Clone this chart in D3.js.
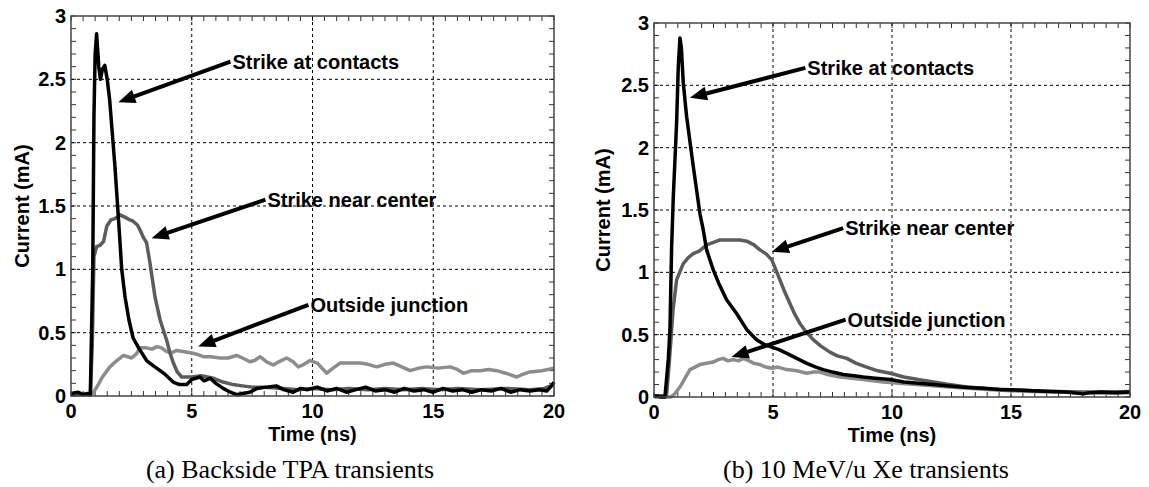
<!DOCTYPE html>
<html>
<head>
<meta charset="utf-8">
<script src="https://cdn.jsdelivr.net/npm/d3@7"></script>
<style>
  body { margin: 0; background: #fff; }
  text { font-family: "Liberation Sans", Arial, sans-serif; font-weight: bold; }
  .caption { font-family: "Liberation Serif", "Times New Roman", serif; font-weight: normal; }
</style>
</head>
<body>
<script>
// tick values
var xTicks = [0, 5, 10, 15, 20];
var yTicks = [0, 0.5, 1, 1.5, 2, 2.5, 3];
var yTickLabels = ["0", "0.5", "1", "1.5", "2", "2.5", "3"];

// (a) Backside TPA transients  [time ns, current mA]
var aContacts = [[0,0.02],[0.3,0.03],[0.5,0.01],[0.7,0.02],[0.8,0.01],[0.9,1.0],[0.95,2.2],[1.0,2.7],[1.06,2.86],[1.15,2.6],[1.22,2.5],[1.3,2.58],[1.4,2.61],[1.5,2.5],[1.6,2.34],[1.82,1.81],[2.0,1.3],[2.1,1.0],[2.24,0.78],[2.4,0.6],[2.57,0.46],[2.8,0.38],[3.13,0.28],[3.4,0.24],[3.69,0.2],[3.9,0.17],[4.23,0.11],[4.5,0.09],[4.79,0.09],[5.0,0.13],[5.34,0.15],[5.5,0.12],[5.76,0.14],[6.0,0.1],[6.3,0.06],[6.6,0.03],[6.86,0.01],[7.1,0.02],[7.4,0.03],[7.7,0.06],[8.1,0.07],[8.5,0.08],[8.8,0.05],[9.2,0.03],[9.5,0.06],[9.8,0.05],[10.2,0.07],[10.6,0.04],[11,0.06],[11.4,0.03],[11.8,0.05],[12.2,0.07],[12.6,0.04],[13,0.05],[13.4,0.03],[13.8,0.06],[14.2,0.04],[14.6,0.05],[15,0.03],[15.4,0.06],[15.8,0.04],[16.2,0.05],[16.6,0.03],[17,0.05],[17.4,0.04],[17.8,0.06],[18.2,0.03],[18.6,0.05],[19,0.04],[19.4,0.05],[19.7,0.04],[19.9,0.08],[20,0.11]];
var aCenter = [[0,0.01],[0.4,0.02],[0.8,0.01],[0.88,0.4],[0.95,1.1],[1.06,1.18],[1.2,1.19],[1.35,1.22],[1.48,1.34],[1.65,1.39],[1.82,1.4],[2.03,1.43],[2.25,1.41],[2.44,1.39],[2.57,1.38],[2.75,1.35],[2.86,1.31],[3.0,1.25],[3.13,1.21],[3.27,1.05],[3.48,0.78],[3.69,0.6],[3.96,0.44],[4.1,0.34],[4.24,0.26],[4.4,0.19],[4.58,0.15],[5.0,0.15],[5.4,0.16],[5.9,0.14],[6.3,0.11],[6.7,0.09],[7.1,0.08],[7.5,0.07],[8.0,0.07],[8.8,0.06],[9.4,0.05],[10,0.06],[10.8,0.05],[11.5,0.06],[12.3,0.05],[13,0.06],[13.8,0.05],[14.5,0.06],[15.3,0.05],[16,0.06],[17,0.05],[18,0.06],[19,0.05],[19.6,0.06],[20,0.09]];
var aOutside = [[0,0.01],[0.8,0.01],[0.9,0.02],[1.1,0.08],[1.3,0.15],[1.61,0.23],[1.9,0.28],[2.17,0.32],[2.35,0.31],[2.51,0.3],[2.7,0.33],[2.86,0.38],[3.13,0.38],[3.35,0.37],[3.55,0.39],[3.75,0.38],[3.96,0.35],[4.15,0.34],[4.38,0.36],[4.7,0.35],[5.0,0.34],[5.2,0.33],[5.48,0.31],[5.8,0.31],[6.17,0.3],[6.5,0.3],[6.86,0.32],[7.1,0.3],[7.41,0.27],[7.6,0.28],[7.83,0.31],[8.1,0.27],[8.38,0.245],[8.6,0.27],[8.93,0.3],[9.2,0.27],[9.41,0.23],[9.65,0.25],[9.9,0.28],[10.2,0.26],[10.59,0.18],[10.85,0.22],[11.14,0.26],[11.5,0.26],[11.97,0.26],[12.3,0.25],[12.66,0.23],[13.0,0.25],[13.35,0.26],[13.7,0.23],[14.04,0.2],[14.4,0.22],[14.73,0.23],[15.2,0.22],[15.7,0.23],[16.0,0.21],[16.25,0.18],[16.6,0.2],[16.94,0.2],[17.3,0.21],[17.63,0.2],[18.0,0.18],[18.46,0.15],[18.7,0.17],[19.0,0.19],[19.5,0.2],[20,0.22]];

// (b) 10 MeV/u Xe transients
var bContacts = [[0,0.01],[0.3,0.0],[0.46,0.0],[0.6,0.3],[0.67,0.54],[0.74,1.2],[0.81,1.6],[0.95,2.2],[1.02,2.65],[1.09,2.88],[1.15,2.8],[1.23,2.52],[1.37,2.25],[1.65,1.85],[1.93,1.47],[2.07,1.34],[2.21,1.18],[2.49,1.02],[2.75,0.9],[3.05,0.78],[3.47,0.67],[3.9,0.54],[4.31,0.46],[4.65,0.42],[4.95,0.4],[5.25,0.38],[5.58,0.35],[6.0,0.31],[6.42,0.27],[6.8,0.24],[7.11,0.22],[7.5,0.2],[7.95,0.18],[8.4,0.17],[8.79,0.16],[9.3,0.15],[9.92,0.14],[10.5,0.12],[11.1,0.11],[11.74,0.1],[12.3,0.09],[12.9,0.08],[13.4,0.075],[13.84,0.07],[14.5,0.06],[15.24,0.056],[15.9,0.05],[16.6,0.045],[17.3,0.04],[18.04,0.025],[18.3,0.035],[18.8,0.04],[19.4,0.035],[20,0.04]];
var bCenter = [[0,0.01],[0.5,0.01],[0.53,0.02],[0.65,0.3],[0.8,0.7],[0.95,0.94],[1.1,1.01],[1.23,1.07],[1.45,1.12],[1.65,1.15],[1.9,1.17],[2.21,1.22],[2.5,1.24],[2.77,1.26],[3.2,1.26],[3.6,1.26],[3.9,1.25],[4.2,1.22],[4.45,1.18],[4.7,1.15],[4.95,1.1],[5.1,1.03],[5.29,0.94],[5.5,0.84],[5.71,0.75],[5.9,0.67],[6.13,0.59],[6.4,0.52],[6.69,0.46],[7.0,0.41],[7.39,0.36],[7.7,0.33],[8.1,0.31],[8.5,0.27],[8.94,0.24],[9.4,0.21],[9.92,0.19],[10.5,0.16],[11.1,0.14],[11.74,0.12],[12.4,0.1],[13.14,0.08],[14.2,0.065],[15.24,0.056],[16,0.05],[17,0.045],[18,0.04],[19,0.04],[20,0.045]];
var bOutside = [[0,0.0],[0.7,0.0],[0.85,0.02],[1.09,0.08],[1.3,0.15],[1.51,0.22],[1.93,0.26],[2.2,0.27],[2.49,0.28],[2.7,0.3],[2.91,0.31],[3.1,0.29],[3.33,0.3],[3.55,0.29],[3.75,0.31],[4.0,0.29],[4.2,0.27],[4.45,0.26],[4.7,0.24],[4.95,0.23],[5.2,0.24],[5.58,0.22],[6.0,0.21],[6.42,0.19],[6.7,0.2],[6.97,0.2],[7.3,0.18],[7.82,0.16],[8.3,0.15],[8.79,0.14],[9.2,0.13],[9.63,0.12],[10.3,0.11],[11,0.1],[11.7,0.09],[12.4,0.08],[13.2,0.07],[14,0.06],[15,0.05],[16,0.045],[17,0.04],[18,0.035],[19,0.03],[20,0.035]];

// annotations: label, text start [t, v], arrow tip [t, v]
var aNotes = [
  {label: "Strike at contacts", from: [6.6, 2.64], to: [1.96, 2.32]},
  {label: "Strike near center", from: [8.05, 1.55], to: [3.34, 1.245]},
  {label: "Outside junction", from: [9.83, 0.72], to: [5.27, 0.39]}
];
var bNotes = [
  {label: "Strike at contacts", from: [6.36, 2.64], to: [1.51, 2.4]},
  {label: "Strike near center", from: [7.95, 1.355], to: [4.95, 1.165]},
  {label: "Outside junction", from: [8.05, 0.62], to: [3.26, 0.32]}
];

var captions = ["(a) Backside TPA transients", "(b) 10 MeV/u Xe transients"];

var W = 1149, H = 487;
var svg = d3.select("body").append("svg")
    .attr("width", W)
    .attr("height", H);
svg.append("rect").attr("width", W).attr("height", H).attr("fill", "#fff");

var panels = [
  {left: 71, right: 554, top: 16, bottom: 396, series: [aOutside, aCenter, aContacts], notes: aNotes, caption: captions[0], capX: 290, ylabX: 22},
  {left: 654, right: 1130, top: 23, bottom: 397, series: [bOutside, bCenter, bContacts], notes: bNotes, caption: captions[1], capX: 866, ylabX: 603}
];
var colors = ["#8c8c8c", "#5c5c5c", "#000"];

panels.forEach(function(p) {
  var x = d3.scaleLinear().domain([0, 20]).range([p.left, p.right]);
  var y = d3.scaleLinear().domain([0, 3]).range([p.bottom, p.top]);
  var g = svg.append("g");

  // minor ticks, inward on all four sides
  var xMinor = d3.range(0, 20.01, 0.5);
  var yMinor = d3.range(0, 3.001, 0.1);
  var tk = g.append("g").attr("stroke", "#333").attr("stroke-width", 1);
  xMinor.forEach(function(t) {
    tk.append("line").attr("x1", x(t)).attr("x2", x(t)).attr("y1", p.bottom).attr("y2", p.bottom - 5);
    tk.append("line").attr("x1", x(t)).attr("x2", x(t)).attr("y1", p.top).attr("y2", p.top + 5);
  });
  yMinor.forEach(function(v) {
    tk.append("line").attr("y1", y(v)).attr("y2", y(v)).attr("x1", p.left).attr("x2", p.left + 5);
    tk.append("line").attr("y1", y(v)).attr("y2", y(v)).attr("x1", p.right).attr("x2", p.right - 5);
  });

  // dashed grid
  var grid = g.append("g").attr("stroke", "#000").attr("stroke-width", 1).attr("stroke-dasharray", "3,3");
  xTicks.slice(1, -1).forEach(function(t) {
    grid.append("line").attr("x1", x(t)).attr("x2", x(t)).attr("y1", p.top).attr("y2", p.bottom);
  });
  yTicks.slice(1, -1).forEach(function(v) {
    grid.append("line").attr("y1", y(v)).attr("y2", y(v)).attr("x1", p.left).attr("x2", p.right);
  });

  // curves
  var line = d3.line().x(function(d) { return x(d[0]); }).y(function(d) { return y(d[1]); });
  p.series.forEach(function(s, i) {
    g.append("path").datum(s)
      .attr("d", line)
      .attr("fill", "none")
      .attr("stroke", colors[i])
      .attr("stroke-width", 3.5)
      .attr("stroke-linejoin", "round");
  });

  // frame
  g.append("rect")
    .attr("x", p.left).attr("y", p.top)
    .attr("width", p.right - p.left).attr("height", p.bottom - p.top)
    .attr("fill", "none").attr("stroke", "#444").attr("stroke-width", 1.5);

  // tick labels
  xTicks.forEach(function(t) {
    g.append("text").attr("x", x(t)).attr("y", p.bottom + 22)
      .attr("text-anchor", "middle").attr("font-size", 20).text(t);
  });
  yTicks.forEach(function(v, i) {
    g.append("text").attr("x", p.left - 5).attr("y", y(v)).attr("dy", "0.35em")
      .attr("text-anchor", "end").attr("font-size", 20).text(yTickLabels[i]);
  });

  // axis titles
  g.append("text").attr("x", (p.left + p.right) / 2).attr("y", p.bottom + 45)
    .attr("text-anchor", "middle").attr("font-size", 20).text("Time (ns)");
  g.append("text")
    .attr("transform", "translate(" + p.ylabX + "," + ((p.top + p.bottom) / 2) + ") rotate(-90)")
    .attr("dy", "0.35em")
    .attr("text-anchor", "middle").attr("font-size", 20).text("Current (mA)");

  // annotations with arrows
  p.notes.forEach(function(n) {
    var x0 = x(n.from[0]), y0 = y(n.from[1]);
    var x1 = x(n.to[0]), y1 = y(n.to[1]);
    var dx = x1 - x0, dy = y1 - y0, len = Math.sqrt(dx * dx + dy * dy);
    var ux = dx / len, uy = dy / len;
    var hl = 17, hw = 7;
    var bx = x1 - ux * hl, by = y1 - uy * hl;
    g.append("line").attr("x1", x0).attr("y1", y0).attr("x2", bx + ux * 2).attr("y2", by + uy * 2)
      .attr("stroke", "#000").attr("stroke-width", 4);
    g.append("polygon")
      .attr("points", [[x1, y1], [bx - uy * hw, by + ux * hw], [bx + uy * hw, by - ux * hw]].map(function(q) { return q.join(","); }).join(" "))
      .attr("fill", "#000");
    g.append("text").attr("x", x0 + 2).attr("y", y0).attr("dy", "0.35em")
      .attr("font-size", 20).text(n.label);
  });

  // caption
  svg.append("text").attr("class", "caption")
    .attr("x", p.capX).attr("y", 478)
    .attr("text-anchor", "middle").attr("font-size", 26).text(p.caption);
});
</script>
</body>
</html>
